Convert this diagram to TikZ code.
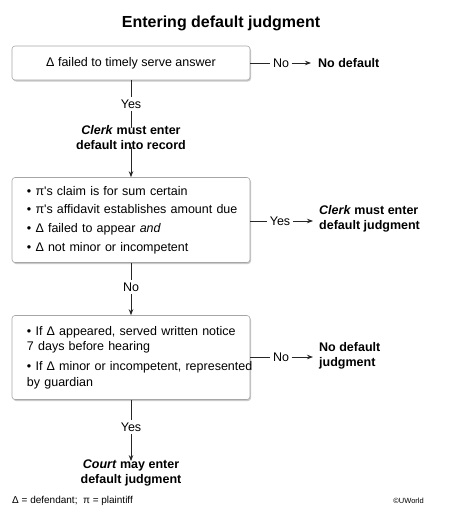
\documentclass[tikz,border=0pt]{standalone}
\usepackage{fontspec}
\setmainfont{Liberation Sans}
\usetikzlibrary{arrows.meta,shadows}
\begin{document}
\begin{tikzpicture}[x=1pt,y=-1pt,
  box/.style={draw=black!35, line width=0.6pt, rounded corners=3pt, fill=white,
    drop shadow={shadow xshift=1pt, shadow yshift=-1.5pt, opacity=0.35, fill=black!60},
    minimum width=238pt, inner sep=0pt, font=\fontsize{12.5}{15}\selectfont},
  lbl/.style={inner sep=2.5pt, font=\fontsize{12.5}{15}\selectfont},
  res/.style={inner sep=0pt, font=\fontsize{12.5}{15}\selectfont\bfseries},
  conn/.style={draw=black!85, line width=0.8pt},
  arr/.style={conn, -{Stealth[length=6pt,width=4.5pt]}},
]
\useasboundingbox (0,0) rectangle (457,517);
\node[font=\fontsize{16}{19}\selectfont\bfseries] (title) at (221,23) {Entering default judgment};

% box 1
\node[box, minimum height=34pt] (b1) at (131,63) {Δ failed to timely serve answer};
\node[lbl] (no1) at (281,63) {No};
\node[res, anchor=west] (nd1) at (318,63) {No default};
\draw[conn] (b1.east) -- (no1.west);
\draw[arr, shorten >=7pt] (no1.east) -- (nd1.west);

\node[lbl] (yes1) at (131,104) {Yes};
\node[res, align=center] (clerk1) at (131,137.5) {\textit{Clerk} must enter\\default into record};
\draw[conn] (b1.south) -- (yes1.north);
\draw[conn] (yes1.south) -- ([yshift=-3pt]clerk1.north);

% box 2
\node[box, minimum height=85pt, align=left, text width=208pt,
      font=\fontsize{12.5}{18.7}\selectfont] (b2) at (131,220)
  {\mbox{• π\textquotesingle s claim is for sum certain}\\
   \mbox{• π\textquotesingle s affidavit establishes amount due}\\
   \mbox{• Δ failed to appear \textit{and}}\\
   \mbox{• Δ not minor or incompetent}};
\draw[arr] ([yshift=3pt]clerk1.south) -- (b2.north);
\node[lbl] (yes2) at (280,221) {Yes};
\node[res, anchor=west, align=left] (clerk2) at (319,219) {\textit{Clerk} must enter\\default judgment};
\draw[conn] (b2.east |- yes2) -- (yes2.west);
\draw[arr, shorten >=6pt] (yes2.east) -- (clerk2.west |- yes2);

\node[lbl] (no2) at (131,287) {No};
\draw[conn] (b2.south) -- (no2.north);

% box 3
\node[box, minimum height=84pt, align=left, text width=208pt,
      font=\fontsize{12.5}{15.5}\selectfont] (b3) at (131,357.5)
  {\mbox{• If Δ appeared, served written notice}\\
   \mbox{7 days before hearing}\\[4.5pt]
   \mbox{• If Δ minor or incompetent, represented}\\
   \mbox{by guardian}};
\draw[arr] (no2.south) -- (b3.north);
\node[lbl] (no3) at (281,357) {No};
\node[res, anchor=west, align=left] (nd3) at (319,355.5) {No default\\judgment};
\draw[conn] (b3.east |- no3) -- (no3.west);
\draw[arr, shorten >=6pt] (no3.east) -- (nd3.west |- no3);

\node[lbl] (yes3) at (131,427) {Yes};
\node[res, align=center] (court) at (131,472.5) {\textit{Court} may enter\\default judgment};
\draw[conn] (b3.south) -- (yes3.north);
\draw[arr] (yes3.south) -- ([yshift=-2pt]court.north);

% footer
\node[anchor=west, inner sep=0pt, font=\fontsize{10}{12}\selectfont] (legend) at (12,501) {Δ = defendant;\ \ π = plaintiff};
\node[anchor=east, inner sep=0pt, font=\fontsize{7.5}{9}\selectfont] (copy) at (424,501) {©UWorld};
\end{tikzpicture}
\end{document}
